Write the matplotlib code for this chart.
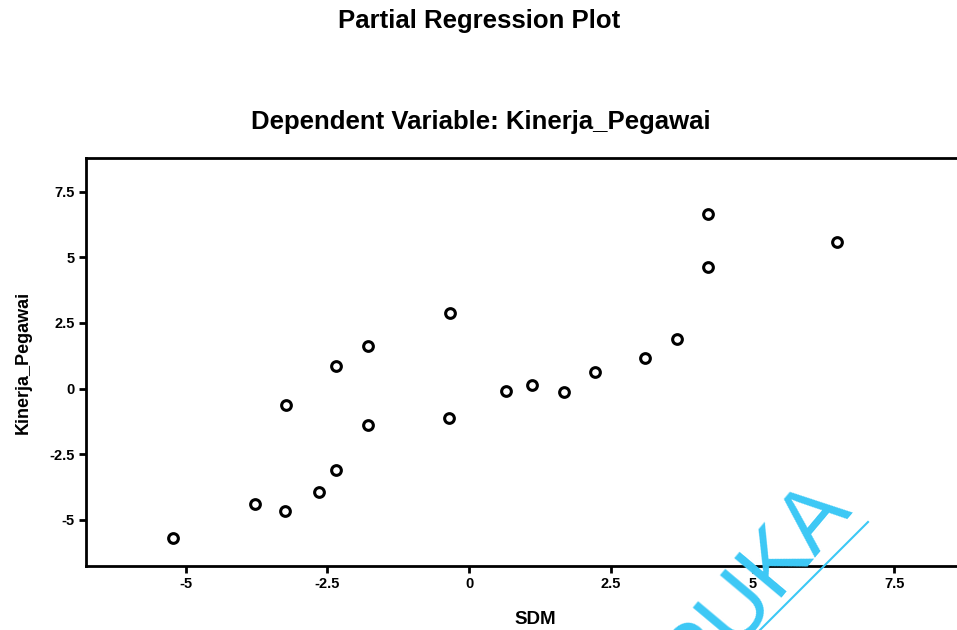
import matplotlib
matplotlib.use('Agg')
import matplotlib.pyplot as plt
from matplotlib.lines import Line2D
import numpy as np
# === Partial regression plot: Kinerja_Pegawai against SDM. ===== |
# --- Data.
sdm = [-5.23, -3.78, -3.25, -3.22, -2.65, -2.35, -2.35, -1.79, -1.79, -0.34,
       -0.35, 0.66, 1.11, 1.67, 2.22, 3.10, 3.66, 4.22, 4.22, 6.49]
kinerja = [-5.69, -4.40, -4.66, -0.64, -3.93, -3.12, 0.86, 1.62, -1.38, 2.87,
           -1.14, -0.11, 0.14, -0.12, 0.63, 1.15, 1.89, 6.65, 4.63, 5.58]
xticks = [-5, -2.5, 0, 2.5, 5, 7.5]
yticks = [-5, -2.5, 0, 2.5, 5, 7.5]
ticklabels = ["-5", "-2.5", "0", "2.5", "5", "7.5"]
# --- #
plt.rcParams['font.family'] = ['Liberation Sans', 'DejaVu Sans']
fig = plt.figure(figsize=(9.57, 6.3), dpi=100)
ax = fig.add_axes([0.0899, 0.1016, 1.04 - 0.0899, 0.749 - 0.1016])
# --- Plot the points.
ax.plot(sdm, kinerja, "o", markersize=7, markerfacecolor="white",
        markeredgecolor="black", markeredgewidth=2.2, linestyle="none")
ax.set_xlim(-6.755, 9.28)
ax.set_ylim(-6.76, 8.78)
ax.set_xticks(xticks)
ax.set_xticklabels(ticklabels, fontsize=10.5, fontweight="bold")
ax.set_yticks(yticks)
ax.set_yticklabels(ticklabels, fontsize=10.5, fontweight="bold")
ax.tick_params(direction="out", length=5, width=2, pad=3)
ax.spines['right'].set_visible(False)
for s in ['left', 'bottom', 'top']:
  ax.spines[s].set_linewidth(2)
# --- Titles and axis labels.
fig.text(0.501, 0.967, "Partial Regression Plot", ha="center", va="center",
         fontsize=18.5, fontweight="bold")
fig.text(0.502, 0.806, "Dependent Variable: Kinerja_Pegawai", ha="center",
         va="center", fontsize=18.5, fontweight="bold")
fig.text(0.559, 0.016, "SDM", ha="center", va="center", fontsize=13.5,
         fontweight="bold")
fig.text(0.024, 0.425, "Kinerja_Pegawai", ha="center", va="center",
         rotation=90, fontsize=13, fontweight="bold")
# --- Watermark.
fig.text(852 / 957, 1 - 506 / 630, "PUKA", ha="right", va="baseline",
         rotation=50, rotation_mode="anchor", fontsize=64, color="#3cc8f5")
fig.add_artist(Line2D([868 / 957, 730 / 957], [1 - 522 / 630, 1 - 660 / 630],
                      transform=fig.transFigure, color="#3cc8f5", linewidth=1.5))
fig.savefig("out.png", dpi=100)
print("Done")
